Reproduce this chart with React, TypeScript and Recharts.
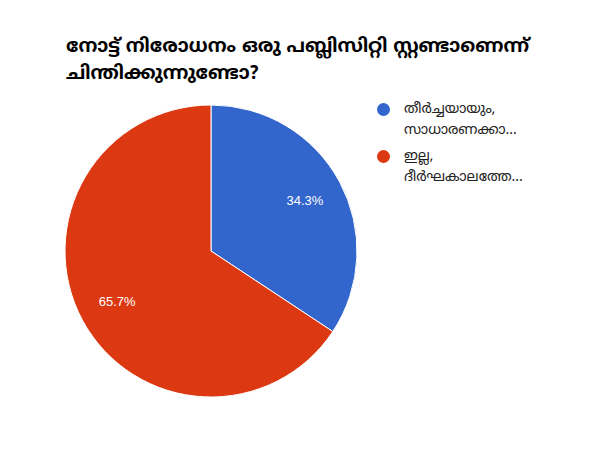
import React from "react";
import { PieChart, Pie, Cell } from "recharts";

const title = ["നോട്ട് നിരോധനം ഒരു പബ്ലിസിറ്റി സ്റ്റണ്ടാണെന്ന്", "ചിന്തിക്കുന്നുണ്ടോ?"];
const answers = ["തീർച്ചയായും, സാധാരണക്കാ…", "ഇല്ല, ദീർഘകാലത്തേ…"];
const legendLines = [
  ["തീർച്ചയായും,", "സാധാരണക്കാ…"],
  ["ഇല്ല,", "ദീർഘകാലത്തേ…"],
];
const shares = [34.3, 65.7];
const colors = ["#3366cc", "#dc3912"];

const data = answers.map((name, i) => ({ name, value: shares[i] }));

const font = "'Noto Sans Malayalam', Roboto, Arial, sans-serif";

const RADIAN = Math.PI / 180;
const renderLabel = (p: any) => {
  const r = p.outerRadius * 0.73;
  const x = p.cx + r * Math.cos(-p.midAngle * RADIAN);
  const y = p.cy + r * Math.sin(-p.midAngle * RADIAN);
  return (
    <text x={x} y={y} fill="#fff" fontSize={13} fontFamily="Arial, sans-serif" textAnchor="middle" dominantBaseline="central">
      {p.value.toFixed(1)}%
    </text>
  );
};

export default function App() {
  return (
    <div style={{ position: "absolute", left: 0, top: 0, width: 600, height: 450, background: "#fff", fontFamily: font }}>
      <div style={{ position: "absolute", left: 0, top: 0 }}>
        <PieChart width={600} height={450} margin={{ top: 0, right: 0, bottom: 0, left: 0 }}>
          <Pie
            data={data}
            dataKey="value"
            cx={211}
            cy={251}
            outerRadius={146}
            startAngle={90}
            endAngle={-270}
            stroke="#fff"
            strokeWidth={1}
            label={renderLabel}
            labelLine={false}
            isAnimationActive={false}
          >
            {data.map((d, i) => (
              <Cell key={d.name} fill={colors[i]} />
            ))}
          </Pie>
        </PieChart>
      </div>
      <div style={{ position: "absolute", left: 66, top: 34, fontSize: 19, fontWeight: 700, color: "#000", lineHeight: "27px" }}>
        {title.map((t, i) => (
          <div key={i}>{t}</div>
        ))}
      </div>
      {legendLines.map((lines, i) => (
        <div key={i} style={{ position: "absolute", left: 377, top: 99 + i * 47 }}>
          <div style={{ position: "absolute", left: 0, top: 4, width: 13, height: 13, borderRadius: "50%", background: colors[i] }} />
          <div style={{ position: "absolute", left: 27, top: 0, fontSize: 14, color: "#222", lineHeight: "21px", whiteSpace: "nowrap" }}>
            {lines.map((l, j) => (
              <div key={j}>{l}</div>
            ))}
          </div>
        </div>
      ))}
    </div>
  );
}
